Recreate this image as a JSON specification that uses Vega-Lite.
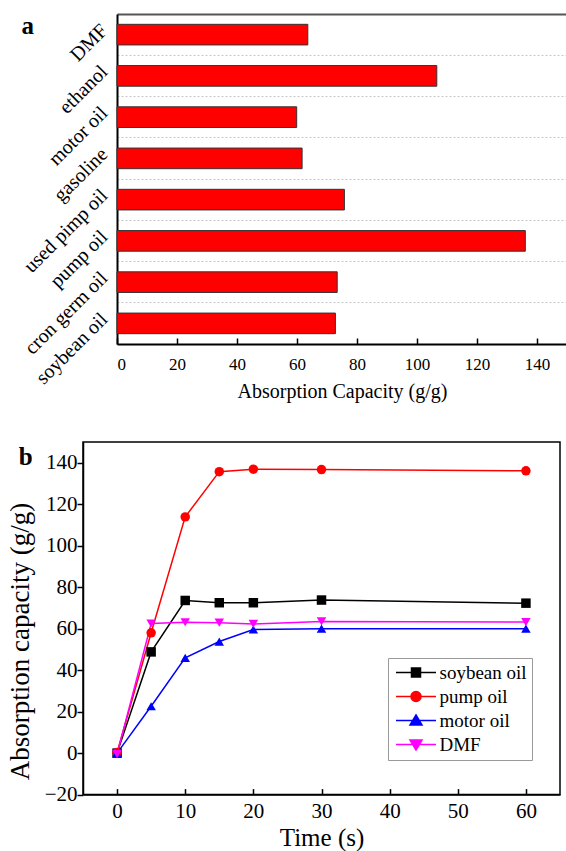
{
  "$schema": "https://vega.github.io/schema/vega-lite/v6.json",
  "autosize": {"type": "pad"},
  "padding": {"left": 5, "top": 13, "right": 0, "bottom": 0},
  "background": "white",
  "config": {
    "font": "Liberation Serif",
    "axis": {"labelFont": "Liberation Serif", "titleFont": "Liberation Serif", "labelColor": "black", "titleColor": "black", "titleFontWeight": "normal", "domainColor": "black", "tickColor": "black"},
    "legend": {"labelFont": "Liberation Serif"}
  },
  "spacing": 40,
  "resolve": {"scale": {"color": "independent"}, "legend": {"color": "independent"}},
  "vconcat": [
    {
      "width": 484,
      "height": 330,
      "view": {"stroke": null},
      "data": {"values": [
        {"liquid": "DMF", "capacity": 63.6},
        {"liquid": "ethanol", "capacity": 106.6},
        {"liquid": "motor oil", "capacity": 59.9},
        {"liquid": "gasoline", "capacity": 61.7},
        {"liquid": "used pimp oil", "capacity": 75.8},
        {"liquid": "pump oil", "capacity": 136.1},
        {"liquid": "cron germ oil", "capacity": 73.4},
        {"liquid": "soybean oil", "capacity": 72.8}
      ]},
      "layer": [
        {
          "mark": {"type": "bar", "opacity": 0},
          "encoding": {
            "y": {"field": "liquid", "type": "nominal", "sort": null,
              "axis": {"orient": "left", "labels": false, "ticks": false, "domain": false, "grid": true, "bandPosition": 1.5, "gridDash": [2, 2], "gridColor": "#c8c8c8", "gridWidth": 1, "title": null}},
            "x": {"field": "capacity", "type": "quantitative",
              "axis": {"orient": "top", "labels": false, "ticks": false, "domain": true, "domainColor": "#555555", "domainWidth": 2, "grid": false, "title": null}}
          }
        },
        {
          "mark": {"type": "bar", "color": "#ff0000", "stroke": "#333333", "strokeWidth": 1},
          "encoding": {
            "y": {"field": "liquid", "type": "nominal", "sort": null,
              "scale": {"paddingInner": 0.5, "paddingOuter": 0.25},
              "axis": {"orient": "left", "offset": -34, "title": "a", "titleAngle": 0, "titleAlign": "left", "titleBaseline": "alphabetic", "titleX": -96, "titleY": 19, "titleFontSize": 25, "titleFontWeight": "bold",
                "labelAngle": -45, "labelAlign": "right", "labelBaseline": "bottom", "ticks": false, "labelPadding": 6, "labelFontSize": 20, "domainWidth": 2, "grid": false}},
            "x": {"field": "capacity", "type": "quantitative",
              "scale": {"domain": [0, 150], "nice": false, "zero": true, "range": [34, 484]},
              "axis": {"orient": "bottom", "values": [0, 20, 40, 60, 80, 100, 120, 140], "tickSize": -6, "tickWidth": 1.5, "labelPadding": 18, "labelFontSize": 17, "domainWidth": 2, "grid": false, "title": "Absorption Capacity (g/g)", "titleFontSize": 20, "titlePadding": 9}}
          }
        }
      ],
      "resolve": {"axis": {"y": "independent", "x": "independent"}}
    },
    {
      "width": 477,
      "height": 352.6,
      "view": {"stroke": "black", "strokeWidth": 1.5},
      "data": {"values": [
        {"t": 0, "series": "soybean oil", "v": 0},
        {"t": 5, "series": "soybean oil", "v": 48.8},
        {"t": 10, "series": "soybean oil", "v": 73.6},
        {"t": 15, "series": "soybean oil", "v": 72.5},
        {"t": 20, "series": "soybean oil", "v": 72.5},
        {"t": 30, "series": "soybean oil", "v": 73.8},
        {"t": 60, "series": "soybean oil", "v": 72.3},
        {"t": 0, "series": "pump oil", "v": 0.3},
        {"t": 5, "series": "pump oil", "v": 58.0},
        {"t": 10, "series": "pump oil", "v": 113.9},
        {"t": 15, "series": "pump oil", "v": 135.7},
        {"t": 20, "series": "pump oil", "v": 136.9},
        {"t": 30, "series": "pump oil", "v": 136.7},
        {"t": 60, "series": "pump oil", "v": 136.1},
        {"t": 0, "series": "motor oil", "v": 0},
        {"t": 5, "series": "motor oil", "v": 22.6},
        {"t": 10, "series": "motor oil", "v": 45.9},
        {"t": 15, "series": "motor oil", "v": 53.8},
        {"t": 20, "series": "motor oil", "v": 59.6},
        {"t": 30, "series": "motor oil", "v": 60.0},
        {"t": 60, "series": "motor oil", "v": 60.0},
        {"t": 0, "series": "DMF", "v": -0.5},
        {"t": 5, "series": "DMF", "v": 62.5},
        {"t": 10, "series": "DMF", "v": 63.1},
        {"t": 15, "series": "DMF", "v": 62.9},
        {"t": 20, "series": "DMF", "v": 62.3},
        {"t": 30, "series": "DMF", "v": 63.5},
        {"t": 60, "series": "DMF", "v": 63.2}
      ]},
      "encoding": {
        "x": {"field": "t", "type": "quantitative",
          "scale": {"domain": [-5, 65], "nice": false, "zero": false},
          "axis": {"values": [0, 10, 20, 30, 40, 50, 60], "tickSize": -6, "tickWidth": 1.5, "labelPadding": 12, "labelFontSize": 21, "domainWidth": 1.5, "grid": false, "title": "Time (s)", "titleFontSize": 25, "titlePadding": 4}},
        "y": {"field": "v", "type": "quantitative",
          "scale": {"domain": [-20, 150], "nice": false, "zero": false},
          "axis": {"values": [-20, 0, 20, 40, 60, 80, 100, 120, 140], "tickSize": 6, "tickWidth": 1.5, "labelPadding": 0, "labelFontSize": 21, "domainWidth": 1.5, "grid": false,
            "title": "Absorption capacity (g/g)", "titleFontSize": 27, "titleAngle": -90, "titleBaseline": "top", "titleAlign": "center", "titleX": -76, "titleY": 199}}
      },
      "layer": [
        {
          "layer": [
            {
              "mark": {"type": "line", "strokeWidth": 1.5},
              "encoding": {
                "color": {"field": "series", "type": "nominal",
                  "scale": {"domain": ["soybean oil", "pump oil", "motor oil", "DMF"], "range": ["#000000", "#ff0000", "#0000ff", "#ff00ff"]},
                  "legend": {
                    "orient": "none", "legendX": 305, "legendY": 216,
                    "title": null, "labelFontSize": 19, "labelColor": "black",
                    "padding": 5, "rowPadding": 4, "strokeColor": "#999999", "fillColor": "white",
                    "symbolOffset": 13.5, "labelOffset": 14, "symbolSize": 100, "symbolStrokeWidth": 1.5,
                    "encode": {"symbols": {"update": {
                      "shape": {"signal": "datum.value == 'soybean oil' ? 'M-4,0H4M-0.9,-0.9H0.9V0.9H-0.9Z' : datum.value == 'pump oil' ? 'M-4,0H4M-1,0A1,1 0 1,1 1,0A1,1 0 1,1 -1,0Z' : datum.value == 'motor oil' ? 'M-4,0H4M0,-1.1L1.2,0.9H-1.2Z' : 'M-4,0H4M0,1.1L1.2,-0.9H-1.2Z'"},
                      "fill": {"signal": "datum.value == 'soybean oil' ? '#000000' : datum.value == 'pump oil' ? '#ff0000' : datum.value == 'motor oil' ? '#0000ff' : '#ff00ff'"},
                      "stroke": {"signal": "datum.value == 'soybean oil' ? '#000000' : datum.value == 'pump oil' ? '#ff0000' : datum.value == 'motor oil' ? '#0000ff' : '#ff00ff'"},
                      "strokeWidth": {"value": 1.5},
                      "size": {"value": 100},
                      "opacity": {"value": 1}
                    }}}
                  }}
              }
            },
            {
              "transform": [{"filter": "datum.series == 'soybean oil'"}],
              "mark": {"type": "point", "shape": "square", "filled": true, "size": 90, "opacity": 1, "color": "#000000"}
            },
            {
              "transform": [{"filter": "datum.series == 'pump oil'"}],
              "mark": {"type": "point", "shape": "circle", "filled": true, "size": 90, "opacity": 1, "color": "#ff0000"}
            },
            {
              "transform": [{"filter": "datum.series == 'motor oil'"}],
              "mark": {"type": "point", "shape": "triangle-up", "filled": true, "size": 90, "opacity": 1, "color": "#0000ff"}
            },
            {
              "transform": [{"filter": "datum.series == 'DMF'"}],
              "mark": {"type": "point", "shape": "triangle-down", "filled": true, "size": 90, "opacity": 1, "color": "#ff00ff"}
            }
          ]
        },
        {
          "mark": {"type": "point", "opacity": 0},
          "encoding": {
            "y": {"field": "v", "type": "quantitative",
              "axis": {"orient": "right", "labels": false, "ticks": false, "domain": false, "grid": false,
                "title": "b", "titleAngle": 0, "titleAlign": "left", "titleBaseline": "alphabetic", "titleX": -541.7, "titleY": 22, "titleFontSize": 25, "titleFontWeight": "bold"}}
          }
        }
      ],
      "resolve": {"axis": {"y": "independent"}}
    }
  ]
}
